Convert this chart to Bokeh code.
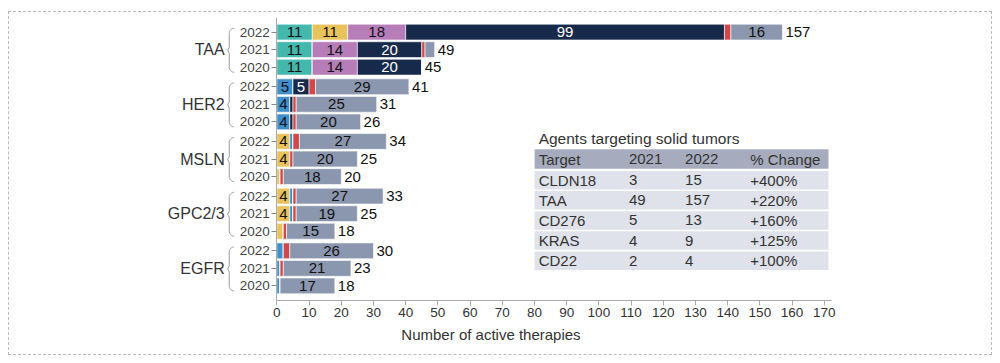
import math
from bokeh.plotting import figure
from bokeh.models import FactorRange, ColumnDataSource, Range1d, FixedTicker
from bokeh.embed import file_html
from bokeh.resources import INLINE
from bokeh.core.properties import value

# ---------------- data ----------------
targets = ["TAA", "HER2", "MSLN", "GPC2/3", "EGFR"]
years = ["2022", "2021", "2020"]
series_names = ["teal", "yellow", "lblue", "purple", "navy", "red", "gray"]
# rows ordered: TAA 2022, TAA 2021, TAA 2020, HER2 2022, ...
teal   = [11, 11, 11,  0,  0,  0,  0,  0,  0,  0,  0,  0,  0,  0,  0]
yellow = [11,  0,  0,  0,  0,  0,  4,  4,  1,  4,  4,  2,  0,  0,  0]
lblue  = [ 0,  0,  0,  5,  4,  4,  1,  0,  0,  1,  1,  0,  2,  1,  1]
purple = [18, 14, 14,  0,  0,  0,  0,  0,  0,  0,  0,  0,  0,  0,  0]
navy   = [99, 20, 20,  5,  1,  1,  0,  0,  0,  0,  0,  0,  0,  0,  0]
red    = [ 2,  1,  0,  2,  1,  1,  2,  1,  1,  1,  1,  1,  2,  1,  0]
gray   = [16,  3,  0, 29, 25, 20, 27, 20, 18, 27, 19, 15, 26, 21, 17]
colors = ["#45b8ad", "#e8c35c", "#3f8fcd", "#b67db9", "#182a4b", "#d0484b", "#8b97ae"]

x_ticks = list(range(0, 171, 10))
x_label = "Number of active therapies"

table_title = "Agents targeting solid tumors"
table_header = ["Target", "2021", "2022", "% Change"]
table_target = ["CLDN18", "TAA", "CD276", "KRAS", "CD22"]
table_2021 = ["3", "49", "5", "4", "2"]
table_2022 = ["15", "157", "13", "9", "4"]
table_change = ["+400%", "+220%", "+160%", "+125%", "+100%"]

# ---------------- layout (page pixels) ----------------
OX, OY = 9, 12            # figure position inside the dashed frame
W, H = 982, 342
FRAME_LEFT, FRAME_RIGHT, FRAME_TOP, FRAME_BOTTOM = 150, 829, 17, 298
X_ZERO_PX = 276
PX_PER_UNIT = 545.8 / 170
GP = 0.114
RP = 0.33
FONT = "Liberation Sans"

MB_L = FRAME_LEFT - OX
MB_R = OX + W - FRAME_RIGHT
MB_T = FRAME_TOP - OY
MB_B = OY + H - FRAME_BOTTOM
frame_h = FRAME_BOTTOM - FRAME_TOP
X_START = -(X_ZERO_PX - FRAME_LEFT) / PX_PER_UNIT
X_END = (FRAME_RIGHT - X_ZERO_PX) / PX_PER_UNIT

# group level is blank: group names are drawn beside the braces below
blank = {t: " " * (k + 1) for k, t in enumerate(targets)}
rows = [(blank[t], y) for t in targets for y in years]
factors = list(reversed(rows))
yr = FactorRange(factors=factors, factor_padding=0, group_padding=GP,
                 range_padding=RP, range_padding_units="absolute")

p = figure(width=W, height=H, y_range=yr, x_range=Range1d(X_START, X_END),
           output_backend="svg", toolbar_location=None,
           min_border_left=MB_L, min_border_right=MB_R,
           min_border_top=MB_T, min_border_bottom=MB_B)
p.outline_line_color = None
p.xgrid.grid_line_color = None
p.ygrid.grid_line_color = None
p.background_fill_color = "white"
p.border_fill_color = "white"
p.styles = {"margin": f"{OY - 1}px 8px 8px {OX - 1}px",
            "border": "1px dashed #bbbbbb",
            "box-sizing": "content-box"}

data = dict(y=rows)
series_vals = [teal, yellow, lblue, purple, navy, red, gray]
for n, v in zip(series_names, series_vals):
    data[n] = v
src = ColumnDataSource(data)
p.hbar_stack(series_names, y="y", height=0.9, color=colors, source=src,
             line_color="white", line_width=0.6)

# segment labels and totals
lx, ly, lt, lc = [], [], [], []
tx, ty, tt = [], [], []
for i, r in enumerate(rows):
    cum = 0
    for n, v in zip(series_names, series_vals):
        val = v[i]
        if val >= 4:
            lx.append(cum + val / 2)
            ly.append(r)
            lt.append(str(val))
            lc.append("white" if n == "navy" else "#111111")
        cum += val
    tx.append(cum)
    ty.append(r)
    tt.append(str(cum))
p.text(x="x", y="y", text="t", text_color="c",
       source=ColumnDataSource(dict(x=lx, y=ly, t=lt, c=lc)),
       text_align="center", text_baseline="middle",
       text_font=value(FONT), text_font_size="15px")
p.text(x="x", y="y", text="t",
       source=ColumnDataSource(dict(x=tx, y=ty, t=tt)),
       text_align="left", text_baseline="middle", x_offset=3,
       text_font=value(FONT), text_font_size="15px", text_color="#111111")

# ---------------- axes ----------------
xa = p.xaxis[0]
xa.ticker = FixedTicker(ticks=x_ticks)
xa.bounds = (0, X_END)
xa.axis_label = x_label
xa.axis_label_text_font = FONT
xa.axis_label_text_font_size = "15px"
xa.axis_label_text_font_style = "normal"
xa.axis_label_text_color = "#333333"
xa.axis_label_standoff = 6
xa.major_label_text_font = FONT
xa.major_label_text_font_size = "13.5px"
xa.major_label_text_color = "#333333"
xa.major_label_standoff = 2
xa.major_tick_out = 5
xa.major_tick_in = 0
xa.minor_tick_out = 0
xa.minor_tick_in = 0
xa.axis_line_color = "#aaaaaa"
xa.major_tick_line_color = "#aaaaaa"

ya = p.yaxis[0]
ya.fixed_location = 0
ya.major_label_text_font = FONT
ya.major_label_text_font_size = "13.5px"
ya.major_label_text_color = "#444444"
ya.major_label_standoff = 2
ya.major_tick_out = 5
ya.major_tick_in = 0
ya.axis_line_color = "#aaaaaa"
ya.major_tick_line_color = "#888888"
ya.group_text_font_size = "13px"
ya.group_label_orientation = "horizontal"
ya.separator_line_alpha = 0

# ---------------- coordinate helpers (layout only) ----------------
n_rows = len(rows)
y_start = -RP
y_end = n_rows + (len(targets) - 1) * GP + RP
y_scale = frame_h / (y_end - y_start)


def yd(py):
    return y_end - (py - FRAME_TOP) / y_scale


def xd(px):
    return (px - X_ZERO_PX) / PX_PER_UNIT


def syn(row_index_top_first):
    i_b = n_rows - 1 - row_index_top_first
    g_b = i_b // len(years)
    return 0.5 + i_b + g_b * GP


# ---------------- group labels and braces ----------------
BR_X_V = 228.5
R_PX = 5.0
GL_RIGHT = 224
bx, by = [], []
gx, gy, gt = [], [], []
for gi, t in enumerate(targets):
    c_top = syn(gi * 3)
    c_mid = syn(gi * 3 + 1)
    c_bot = syn(gi * 3 + 2)
    top = c_top + 3.8 / y_scale
    bot = c_bot - 5.0 / y_scale
    mid = (top + bot) / 2
    ry = R_PX / y_scale
    xs, ys = [], []
    for k in range(11):
        a = (math.pi / 2) * k / 10
        xs.append(xd(BR_X_V + R_PX - R_PX * math.sin(a)))
        ys.append(top - ry + ry * math.cos(a))
    kh = 3.0 / y_scale
    xs += [xd(BR_X_V), xd(BR_X_V - 1.5), xd(BR_X_V)]
    ys += [mid + kh, mid, mid - kh]
    for k in range(11):
        a = (math.pi / 2) * k / 10
        xs.append(xd(BR_X_V + R_PX - R_PX * math.cos(a)))
        ys.append(bot + ry - ry * math.sin(a))
    bx.append(xs)
    by.append(ys)
    gx.append(xd(GL_RIGHT))
    gy.append(c_mid)
    gt.append(t)
p.multi_line(xs="xs", ys="ys", source=ColumnDataSource(dict(xs=bx, ys=by)),
             line_color="#9a9a9a", line_width=1)
p.text(x="x", y="y", text="t", source=ColumnDataSource(dict(x=gx, y=gy, t=gt)),
       text_align="right", text_baseline="middle", text_font=value(FONT),
       text_font_size="16px", text_color="#333333")

# ---------------- table ----------------
T_LEFT, T_RIGHT = 533, 826
T_TITLE_Y = 137
HEAD_TOP, HEAD_H = 147.7, 19.6
ROW_TOP, ROW_STEP, ROW_H = 169.3, 20, 18.4
COL_X = [537, 627, 683, 748]
T_FONT = "15px"

p.text(x=[xd(COL_X[0])], y=[yd(T_TITLE_Y)], text=[table_title],
       text_align="left", text_baseline="middle", text_font=value(FONT),
       text_font_size="15.5px", text_color="#333333")

table_rows = [table_header] + [list(r) for r in zip(table_target, table_2021,
                                                      table_2022, table_change)]
q_left, q_right, q_top, q_bot, q_col = [], [], [], [], []
c_x, c_y, c_t = [], [], []
for ri, row in enumerate(table_rows):
    if ri == 0:
        top_px, h_px = HEAD_TOP, HEAD_H
    else:
        top_px, h_px = ROW_TOP + (ri - 1) * ROW_STEP, ROW_H
    q_left.append(xd(T_LEFT))
    q_right.append(xd(T_RIGHT))
    q_top.append(yd(top_px))
    q_bot.append(yd(top_px + h_px))
    q_col.append("#a6acbd" if ri == 0 else "#dfe2ea")
    for ci, cell in enumerate(row):
        c_x.append(xd(COL_X[ci]))
        c_y.append(yd(top_px + h_px / 2))
        c_t.append(cell)
p.quad(left="l", right="r", top="t", bottom="b", fill_color="c", line_color=None,
       source=ColumnDataSource(dict(l=q_left, r=q_right, t=q_top, b=q_bot, c=q_col)))
p.text(x="x", y="y", text="t", source=ColumnDataSource(dict(x=c_x, y=c_y, t=c_t)),
       text_align="left", text_baseline="middle", text_font=value(FONT),
       text_font_size=T_FONT, text_color="#333333")

open("out.html", "w").write(file_html(p, INLINE))
